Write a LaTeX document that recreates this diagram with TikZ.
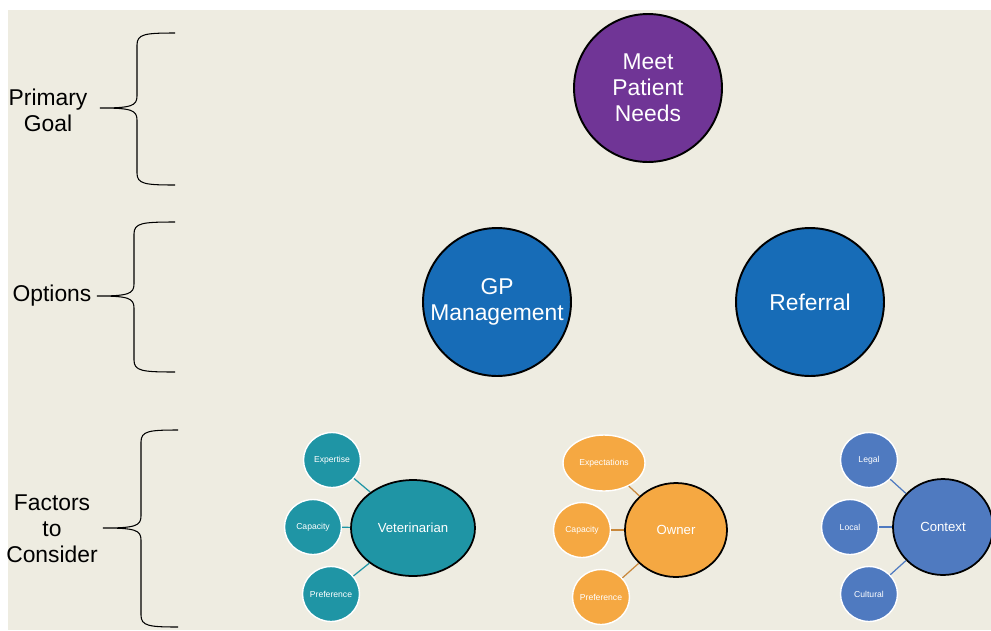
\documentclass[tikz,border=0pt]{standalone}
\usepackage{fontspec}
\setmainfont{Liberation Sans}
\usetikzlibrary{shapes.geometric}
\definecolor{bgtan}{HTML}{EEECE1}
\definecolor{goalpurple}{HTML}{703596}
\definecolor{optblue}{HTML}{176CB7}
\definecolor{vetteal}{HTML}{1F95A5}
\definecolor{ownorange}{HTML}{F5A842}
\definecolor{ownline}{HTML}{C8873A}
\definecolor{ctxblue}{HTML}{4F7AC0}
\begin{document}
\begin{tikzpicture}[x=0.02cm,y=-0.02cm]
		\tikzset{bigc/.style = {shape=circle, draw=black, line width=1.1pt, inner sep=0pt, minimum size=2.96cm, text=white, align=center, font=\fontsize{13}{14.7}\selectfont}}
		\tikzset{hub/.style = {shape=ellipse, draw=black, line width=1pt, inner sep=0pt, text=white, font=\fontsize{7.5}{9}\selectfont}}
		\tikzset{leaf/.style = {shape=ellipse, draw=white, line width=0.8pt, inner xsep=-3pt, inner ysep=0pt, minimum width=1.14cm, minimum height=1.1cm, text=white, font=\fontsize{4.9}{6}\selectfont}}
		\tikzset{side/.style = {align=center, font=\fontsize{13}{14.7}\selectfont}}
		\tikzset{link/.style = {line width=0.7pt}}

		\useasboundingbox (0,0) rectangle (991,630);
		\clip (0,0) rectangle (991,630);
		\fill[white] (0,0) rectangle (991,630);
		\fill[bgtan] (8,10) rectangle (991,630);

		% left labels and braces
		\node[side] (pg) at (48,110) {Primary\\Goal};
		\node[side] (op) at (52,296) {Options};
		\node[side] (fc) at (52,529) {Factors\\to\\Consider};

		\foreach \vx/\ya/\yb/\yc/\tx/\mx in {137/33/108/185/175/100, 134/222/296/372/175/97, 141/430/528/627/178/103}
			\draw[line width=0.6pt] (\tx,\ya) .. controls (\vx+8,\ya) and (\vx,\ya+1) .. (\vx,\ya+12) -- (\vx,\yb-12)
				.. controls (\vx,\yb-2) and (\vx-6,\yb) .. (\mx,\yb)
				.. controls (\vx-6,\yb) and (\vx,\yb+2) .. (\vx,\yb+12) -- (\vx,\yc-12)
				.. controls (\vx,\yc-1) and (\vx+8,\yc) .. (\tx,\yc);

		% goal and options
		\node[bigc, fill=goalpurple] (goal) at (648,88) {Meet\\Patient\\Needs};
		\node[bigc, fill=optblue] (gp) at (497,302) {GP\\Management};
		\node[bigc, fill=optblue] (ref) at (810,302) {Referral};

		% veterinarian
		\node[hub, fill=vetteal, minimum width=2.48cm, minimum height=1.92cm] (vet) at (413,528) {Veterinarian};
		\node[leaf, fill=vetteal] (vexp) at (332,460) {Expertise};
		\node[leaf, fill=vetteal] (vcap) at (313,527) {Capacity};
		\node[leaf, fill=vetteal] (vpre) at (331,594) {Preference};
		\draw[link, vetteal] (vexp) -- (vet);
		\draw[link, vetteal] (vcap) -- (vet);
		\draw[link, vetteal] (vpre) -- (vet);

		% owner
		\node[hub, fill=ownorange, minimum width=2.04cm, minimum height=1.88cm] (own) at (676,530) {Owner};
		\node[leaf, fill=ownorange, minimum width=1.64cm, minimum height=1.12cm] (oexp) at (604,463) {Expectations};
		\node[leaf, fill=ownorange] (ocap) at (582,530) {Capacity};
		\node[leaf, fill=ownorange] (opre) at (601,597) {Preference};
		\draw[link, ownline] (oexp) -- (own);
		\draw[link, ownline] (ocap) -- (own);
		\draw[link, ownline] (opre) -- (own);

		% context
		\node[hub, fill=ctxblue, minimum width=2.0cm, minimum height=1.92cm] (ctx) at (943,527) {Context};
		\node[leaf, fill=ctxblue] (cleg) at (869,460) {Legal};
		\node[leaf, fill=ctxblue] (cloc) at (850,527) {Local};
		\node[leaf, fill=ctxblue] (ccul) at (869,594) {Cultural};
		\draw[link, ctxblue] (cleg) -- (ctx);
		\draw[link, ctxblue] (cloc) -- (ctx);
		\draw[link, ctxblue] (ccul) -- (ctx);

	\end{tikzpicture}
\end{document}
